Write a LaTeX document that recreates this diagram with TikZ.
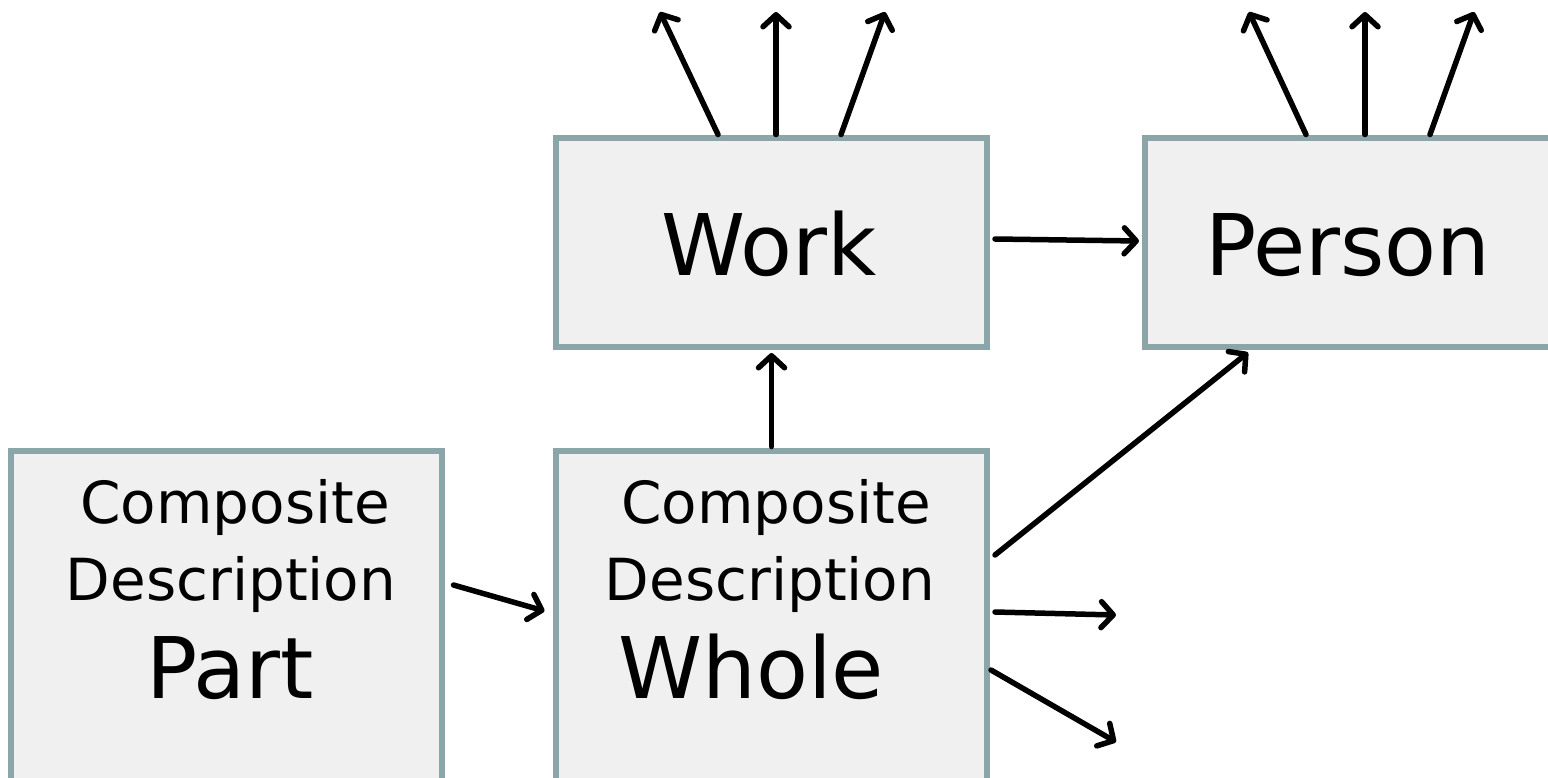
\documentclass[tikz,border=0pt]{standalone}
\usepackage{fontspec}
\setmainfont{DejaVu Sans}
\usetikzlibrary{arrows.meta,calc}
\definecolor{boxfill}{HTML}{F0F0F0}
\definecolor{boxline}{HTML}{8BA5A8}
\begin{document}
\begin{tikzpicture}[x=1pt,y=-1pt,
  box/.style={draw=boxline,fill=boxfill,line width=6pt,minimum width=431pt,inner sep=0pt},
  arr/.style={line width=5.5pt,line cap=round,-{Straight Barb[length=12pt,width=26pt,round]}},
  smalltxt/.style={anchor=base,inner sep=0pt,font=\fontsize{58}{60}\selectfont},
  bigtxt/.style={anchor=base,inner sep=0pt,font=\fontsize{85}{88}\selectfont}]
\clip (0,0) rectangle (1548,777);
\useasboundingbox (0,0) rectangle (1548,777);
% boxes
\node[box,minimum height=209pt] (work) at (771.5,242) {};
\node[box,minimum height=209pt] (person) at (1360.5,242) {};
\node[box,minimum height=420pt] (part) at (226.5,660.5) {};
\node[box,minimum height=420pt] (whole) at (771.5,660.5) {};
% texts
\node[bigtxt] (worktxt) at (769,275) {Work};
\node[bigtxt] (persontxt) at (1348,275) {Person};
\node[smalltxt] (partA) at (235,523) {Composite};
\node[smalltxt] (partB) at (231,600) {Description};
\node[bigtxt] (partC) at (230,698) {Part};
\node[smalltxt] (wholeA) at (776,523) {Composite};
\node[smalltxt] (wholeB) at (770,600) {Description};
\node[bigtxt] (wholeC) at (751,698) {Whole};
% free ends
\coordinate (wa) at (660,12);
\coordinate (wb) at (776,12);
\coordinate (wc) at (885,12);
\coordinate (pa) at (1249,12);
\coordinate (pb) at (1365,12);
\coordinate (pc) at (1474,12);
\coordinate (oa) at (1116,615);
\coordinate (ob) at (1116,742);
% connectors
\draw[arr] ([xshift=-53.5pt]work.north) -- (wa);
\draw[arr] ([xshift=4.5pt]work.north) -- (wb);
\draw[arr] ([xshift=69.5pt]work.north) -- (wc);
\draw[arr] ([xshift=-54.5pt]person.north) -- (pa);
\draw[arr] ([xshift=4.5pt]person.north) -- (pb);
\draw[arr] ([xshift=69.5pt]person.north) -- (pc);
\draw[arr] ($(work.east)+(5,-3)$) -- ($(person.west)+(-3,-1)$);
\draw[arr] ($(whole.north)+(0,-1)$) -- ($(work.south)+(0,3.5)$);
\draw[arr] ($(whole.north east)+(5,107.5)$) -- ($(person.south)+(-112.5,3)$);
\draw[arr] ($(whole.north east)+(5,164.5)$) -- (oa);
\draw[arr] ($(whole.north east)+(1,222.5)$) -- (ob);
\draw[arr] ($(part.north east)+(8.5,137.5)$) -- ($(whole.north west)+(-8.5,163.5)$);
\end{tikzpicture}
\end{document}
